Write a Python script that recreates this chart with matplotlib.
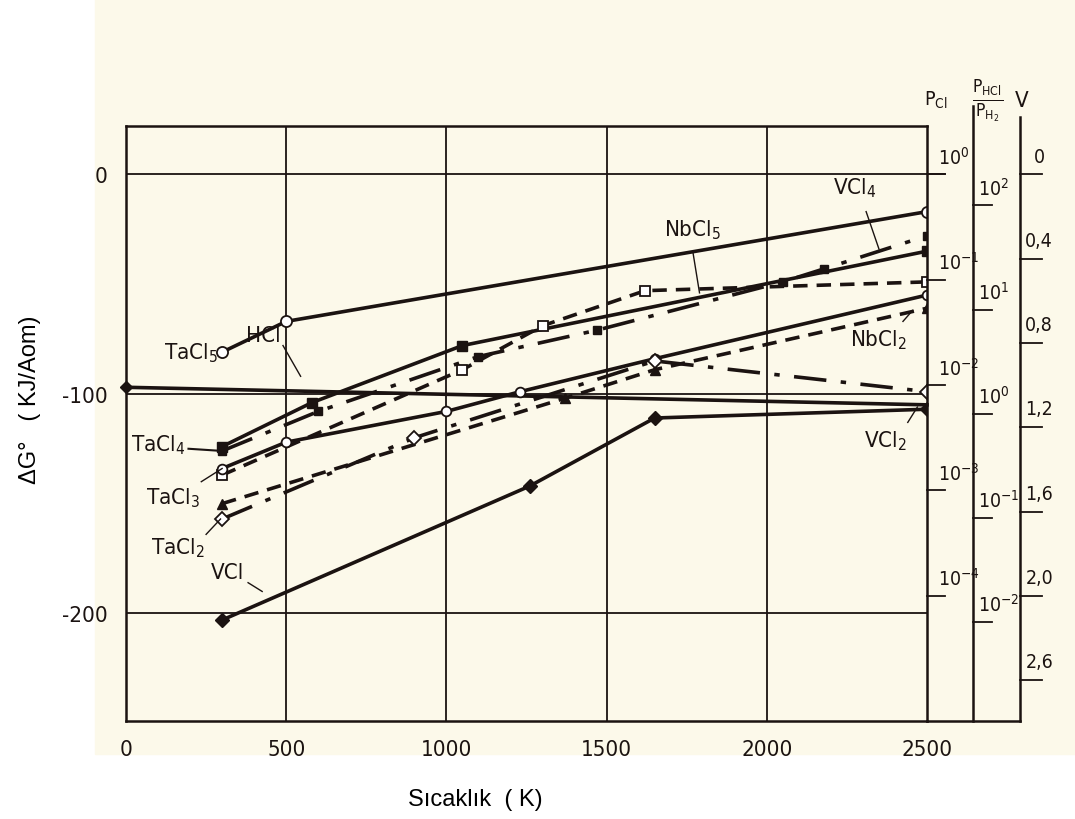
import matplotlib.pyplot as plt
import numpy as np
from matplotlib.patches import Rectangle

plt.rcParams['mathtext.default'] = 'regular'
NARROW = ['DejaVu Sans']

# values (T in K, dG in kJ)
tacl5_T = [300, 500, 2500]
tacl5_G = [-81, -67, -17]
hcl_T = [0, 2500]
hcl_G = [-97, -105]
vcl_T = [300, 1260, 1650, 2500]
vcl_G = [-203, -142, -111, -107]
tacl4_T = [300, 580, 1050, 2500]
tacl4_G = [-124, -104, -78, -35]
vcl4_T = [300, 600, 1100, 1470, 2050, 2180, 2500]
vcl4_G = [-126, -108, -83, -71, -49, -43, -28]
nbcl5_T = [300, 1050, 1300, 1620, 2500]
nbcl5_G = [-137, -89, -69, -53, -49]
tacl3_T = [300, 500, 1000, 1230, 1650, 2500]
tacl3_G = [-134, -122, -108, -99, -84, -55]
nbcl2_T = [300, 1370, 1650, 2500]
nbcl2_G = [-150, -102, -89, -61]
tacl2_T = [300, 900, 1650, 2500]
tacl2_G = [-157, -120, -85, -99]

x_ticks = [0, 500, 1000, 1500, 2000, 2500]
y_ticks = [0, -100, -200]

# side scales
pcl_exp = [0, -1, -2, -3, -4]
ratio_exp = [2, 1, 0, -1, -2]
v_vals = [0, 0.4, 0.8, 1.2, 1.6, 2.0, 2.4]
v_labels = ['0', '0,4', '0,8', '1,2', '1,6', '2,0', '2,6']

ink = '#1b1311'
fig = plt.figure(figsize=(10.75, 8.2), dpi=100)
fig.patch.set_facecolor('white')
bg = Rectangle((95/1075, 65/820), 1-95/1075, 1-65/820,
               transform=fig.transFigure, color='#fcf9ea', zorder=-10)
fig.patches.append(bg)
ax = fig.add_axes([126/1075, 98/820, 801/1075, 595/820])
ax.set_facecolor('none')
ax.set_xlim(0, 2500)
ax.set_ylim(-249, 22)

for x in x_ticks[1:-1]:
    ax.axvline(x, color=ink, lw=1.3, zorder=1)
for y in y_ticks:
    ax.axhline(y, color=ink, lw=1.3, zorder=1)
for s in ax.spines.values():
    s.set_color(ink)
    s.set_linewidth(1.8)

lw = 2.6
ax.plot(tacl5_T, tacl5_G, '-', color=ink, lw=lw, marker='o', ms=8, mfc='white', mec=ink, mew=1.3)
ax.plot(hcl_T, hcl_G, '-', color=ink, lw=lw, marker='D', ms=6, markevery=[0], clip_on=False)
ax.plot(vcl_T, vcl_G, '-', color=ink, lw=lw, marker='D', ms=7)
ax.plot(tacl4_T, tacl4_G, '-', color=ink, lw=lw, marker='s', ms=7)
ax.plot(vcl4_T, vcl4_G, color=ink, lw=lw, dashes=[9, 4, 1.5, 4], marker='s', ms=6)
ax.plot(nbcl5_T, nbcl5_G, color=ink, lw=lw, dashes=[4, 2.5], marker='s', ms=7, mfc='white', mec=ink, mew=1.3)
ax.plot(tacl3_T, tacl3_G, '-', color=ink, lw=lw, marker='o', ms=7, mfc='white', mec=ink, mew=1.3)
ax.plot(nbcl2_T, nbcl2_G, color=ink, lw=lw, dashes=[4, 2.5], marker='^', ms=7)
ax.plot(tacl2_T, tacl2_G, color=ink, lw=lw, dashes=[9, 4, 1.5, 4], marker='D', ms=7, mfc='white', mec=ink, mew=1.3)

ax.set_xticks(x_ticks)
ax.set_xticklabels([str(v) for v in x_ticks], family=NARROW, stretch='condensed', fontsize=16, color=ink)
ax.set_yticks(y_ticks)
ax.set_yticklabels([str(v) for v in y_ticks], family=NARROW, stretch='condensed', fontsize=16, color=ink)
ax.tick_params(length=0, pad=13)

# compound labels with leader lines
lab = dict(family=NARROW, stretch='condensed', fontsize=16, color=ink)
ax.text(287, -81, 'TaCl$_5$', ha='right', va='center', **lab)
ax.text(430, -73, 'HCl', ha='center', va='center', **lab)
ax.plot([490, 545], [-78, -92], color=ink, lw=1)
ax.text(185, -123, 'TaCl$_4$', ha='right', va='center', **lab)
ax.plot([195, 300], [-125, -126], color=ink, lw=1.5)
ax.text(230, -147, 'TaCl$_3$', ha='right', va='center', **lab)
ax.plot([235, 300], [-140, -134], color=ink, lw=1)
ax.text(245, -170, 'TaCl$_2$', ha='right', va='center', **lab)
ax.plot([250, 295], [-164, -157], color=ink, lw=1)
ax.text(370, -181, 'VCl', ha='right', va='center', **lab)
ax.plot([381, 425], [-186, -190], color=ink, lw=1)
ax.text(1767, -25, 'NbCl$_5$', ha='center', va='center', **lab)
ax.plot([1770, 1790], [-36, -54], color=ink, lw=1)
ax.text(2275, -6, 'VCl$_4$', ha='center', va='center', **lab)
ax.plot([2310, 2350], [-17, -34], color=ink, lw=1)
ax.text(2350, -75, 'NbCl$_2$', ha='center', va='center', **lab)
ax.plot([2425, 2455], [-67, -62], color=ink, lw=1)
ax.text(2370, -121, 'VCl$_2$', ha='center', va='center', **lab)
ax.plot([2440, 2470], [-113, -106], color=ink, lw=1)

# right hand scales
small = dict(lab, fontsize=14)
ax.plot([2500, 2556], [0, 0], color=ink, lw=1.3, clip_on=False)
for e in pcl_exp:
    y = 48 * e
    ax.plot([2500, 2556], [y, y], color=ink, lw=1.3, clip_on=False)
    ax.text(2535, y + 3, '$10^{%d}$' % e, ha='left', va='bottom', clip_on=False, **small)
ax.plot([2643, 2643], [31, -249], color=ink, lw=1.8, clip_on=False)
for e in ratio_exp:
    y = -109 + 47.4 * e
    ax.plot([2643, 2703], [y, y], color=ink, lw=1.3, clip_on=False)
    ax.text(2660, y + 3, '$10^{%d}$' % e, ha='left', va='bottom', clip_on=False, **small)
ax.plot([2790, 2790], [26, -249], color=ink, lw=1.8, clip_on=False)
for v, t in zip(v_vals, v_labels):
    y = -96 * v
    ax.plot([2790, 2859], [y, y], color=ink, lw=1.3, clip_on=False)
    ax.text(2850, y + 4, t, ha='center', va='bottom', clip_on=False, **small)
ax.plot([2500, 2790], [-249, -249], color=ink, lw=1.8, clip_on=False)

ax.text(2528, 34, 'P$_{Cl}$', ha='center', va='center', clip_on=False, **small)
ax.text(2690, 34, r'$\frac{P_{HCl}}{P_{H_2}}$', ha='center', va='center', clip_on=False, **dict(lab, fontsize=18))
ax.text(2795, 34, 'V', ha='center', va='center', clip_on=False, **dict(lab, fontsize=16))

fig.text(30/1075, 1 - 400/820, 'ΔG°   ( KJ/Aom)', rotation=90, ha='center', va='center',
         fontsize=17, family='Liberation Sans', color='black')
fig.text(475/1075, 1 - 800/820, 'Sıcaklık  ( K)', ha='center', va='center',
         fontsize=17, family='Liberation Sans', color='black')

fig.savefig('out.png', dpi=100)
